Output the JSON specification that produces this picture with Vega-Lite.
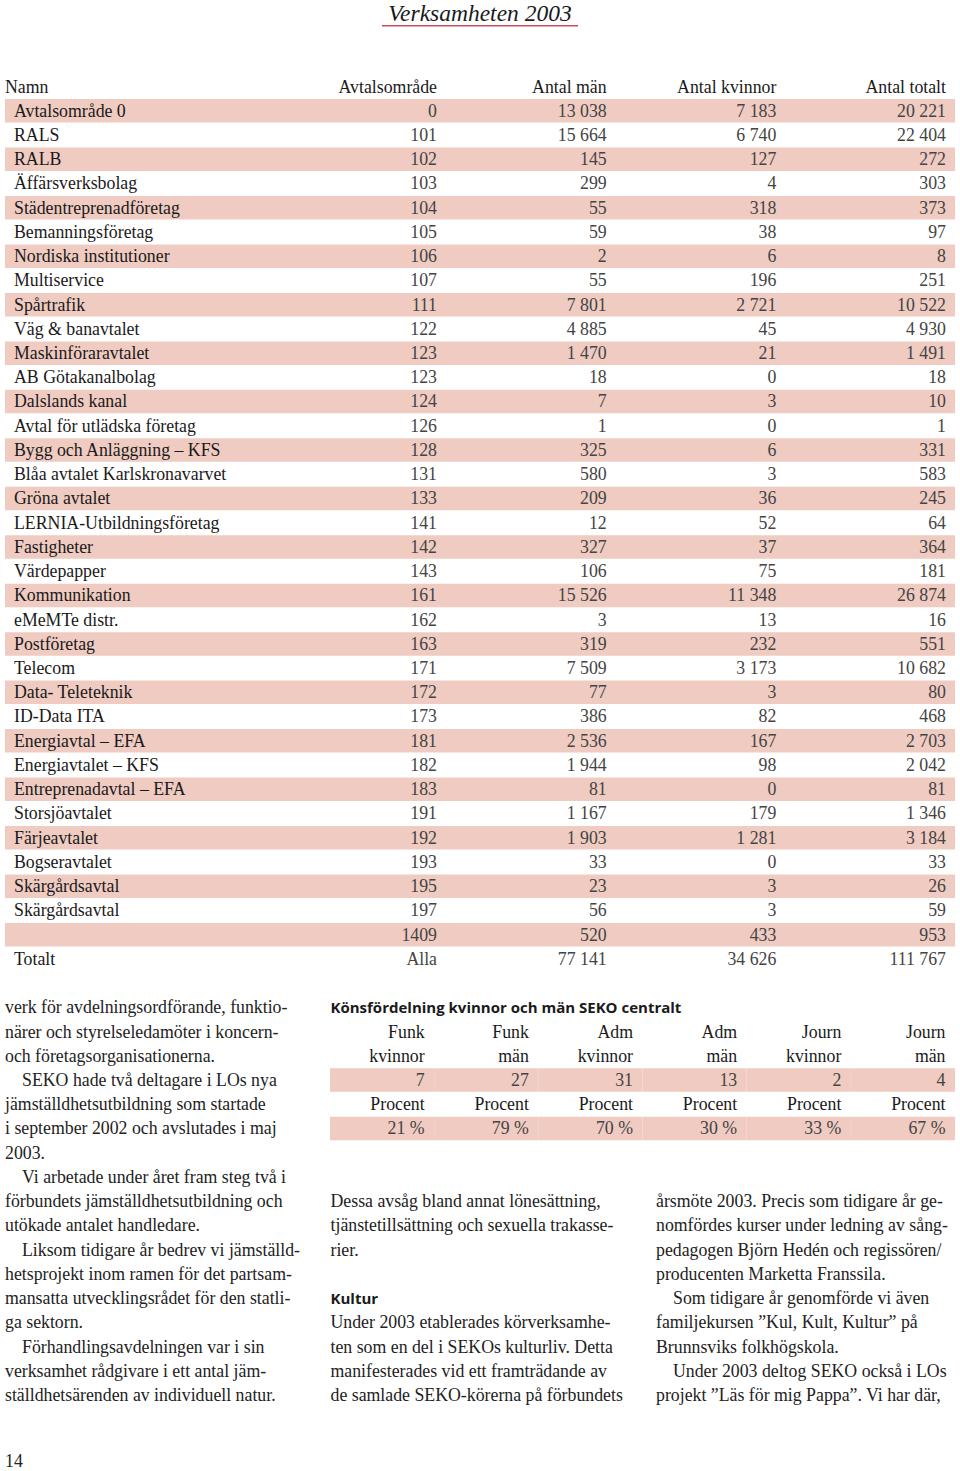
{
  "$schema": "https://vega.github.io/schema/vega-lite/v6.json",
  "width": 950,
  "height": 1471,
  "padding": {"left": 5, "right": 5, "top": 0, "bottom": 0},
  "autosize": {"type": "none"},
  "background": "white",
  "config": {
    "view": {"stroke": null},
    "axis": {"disable": true},
    "legend": {"disable": true},
    "locale": {"number": {"decimal": ",", "thousands": " ", "grouping": [3], "currency": ["", " kr"], "percent": " %"}},
    "text": {"font": "Liberation Serif", "fontSize": 17.8, "baseline": "alphabetic", "color": "#222222"}
  },
  "datasets": {
    "avtal": [
      {"nr": 1, "namn": "Avtalsområde 0", "avtalsomrade": "0", "man": 13038, "kvinnor": 7183, "totalt": 20221},
      {"nr": 2, "namn": "RALS", "avtalsomrade": "101", "man": 15664, "kvinnor": 6740, "totalt": 22404},
      {"nr": 3, "namn": "RALB", "avtalsomrade": "102", "man": 145, "kvinnor": 127, "totalt": 272},
      {"nr": 4, "namn": "Äffärsverksbolag", "avtalsomrade": "103", "man": 299, "kvinnor": 4, "totalt": 303},
      {"nr": 5, "namn": "Städentreprenadföretag", "avtalsomrade": "104", "man": 55, "kvinnor": 318, "totalt": 373},
      {"nr": 6, "namn": "Bemanningsföretag", "avtalsomrade": "105", "man": 59, "kvinnor": 38, "totalt": 97},
      {"nr": 7, "namn": "Nordiska institutioner", "avtalsomrade": "106", "man": 2, "kvinnor": 6, "totalt": 8},
      {"nr": 8, "namn": "Multiservice", "avtalsomrade": "107", "man": 55, "kvinnor": 196, "totalt": 251},
      {"nr": 9, "namn": "Spårtrafik", "avtalsomrade": "111", "man": 7801, "kvinnor": 2721, "totalt": 10522},
      {"nr": 10, "namn": "Väg & banavtalet", "avtalsomrade": "122", "man": 4885, "kvinnor": 45, "totalt": 4930},
      {"nr": 11, "namn": "Maskinföraravtalet", "avtalsomrade": "123", "man": 1470, "kvinnor": 21, "totalt": 1491},
      {"nr": 12, "namn": "AB Götakanalbolag", "avtalsomrade": "123", "man": 18, "kvinnor": 0, "totalt": 18},
      {"nr": 13, "namn": "Dalslands kanal", "avtalsomrade": "124", "man": 7, "kvinnor": 3, "totalt": 10},
      {"nr": 14, "namn": "Avtal för utlädska företag", "avtalsomrade": "126", "man": 1, "kvinnor": 0, "totalt": 1},
      {"nr": 15, "namn": "Bygg och Anläggning – KFS", "avtalsomrade": "128", "man": 325, "kvinnor": 6, "totalt": 331},
      {"nr": 16, "namn": "Blåa avtalet Karlskronavarvet", "avtalsomrade": "131", "man": 580, "kvinnor": 3, "totalt": 583},
      {"nr": 17, "namn": "Gröna avtalet", "avtalsomrade": "133", "man": 209, "kvinnor": 36, "totalt": 245},
      {"nr": 18, "namn": "LERNIA-Utbildningsföretag", "avtalsomrade": "141", "man": 12, "kvinnor": 52, "totalt": 64},
      {"nr": 19, "namn": "Fastigheter", "avtalsomrade": "142", "man": 327, "kvinnor": 37, "totalt": 364},
      {"nr": 20, "namn": "Värdepapper", "avtalsomrade": "143", "man": 106, "kvinnor": 75, "totalt": 181},
      {"nr": 21, "namn": "Kommunikation", "avtalsomrade": "161", "man": 15526, "kvinnor": 11348, "totalt": 26874},
      {"nr": 22, "namn": "eMeMTe distr.", "avtalsomrade": "162", "man": 3, "kvinnor": 13, "totalt": 16},
      {"nr": 23, "namn": "Postföretag", "avtalsomrade": "163", "man": 319, "kvinnor": 232, "totalt": 551},
      {"nr": 24, "namn": "Telecom", "avtalsomrade": "171", "man": 7509, "kvinnor": 3173, "totalt": 10682},
      {"nr": 25, "namn": "Data- Teleteknik", "avtalsomrade": "172", "man": 77, "kvinnor": 3, "totalt": 80},
      {"nr": 26, "namn": "ID-Data ITA", "avtalsomrade": "173", "man": 386, "kvinnor": 82, "totalt": 468},
      {"nr": 27, "namn": "Energiavtal – EFA", "avtalsomrade": "181", "man": 2536, "kvinnor": 167, "totalt": 2703},
      {"nr": 28, "namn": "Energiavtalet – KFS", "avtalsomrade": "182", "man": 1944, "kvinnor": 98, "totalt": 2042},
      {"nr": 29, "namn": "Entreprenadavtal – EFA", "avtalsomrade": "183", "man": 81, "kvinnor": 0, "totalt": 81},
      {"nr": 30, "namn": "Storsjöavtalet", "avtalsomrade": "191", "man": 1167, "kvinnor": 179, "totalt": 1346},
      {"nr": 31, "namn": "Färjeavtalet", "avtalsomrade": "192", "man": 1903, "kvinnor": 1281, "totalt": 3184},
      {"nr": 32, "namn": "Bogseravtalet", "avtalsomrade": "193", "man": 33, "kvinnor": 0, "totalt": 33},
      {"nr": 33, "namn": "Skärgårdsavtal", "avtalsomrade": "195", "man": 23, "kvinnor": 3, "totalt": 26},
      {"nr": 34, "namn": "Skärgårdsavtal", "avtalsomrade": "197", "man": 56, "kvinnor": 3, "totalt": 59},
      {"nr": 35, "namn": "", "avtalsomrade": "1409", "man": 520, "kvinnor": 433, "totalt": 953},
      {"nr": 36, "namn": "Totalt", "avtalsomrade": "Alla", "man": 77141, "kvinnor": 34626, "totalt": 111767}
    ],
    "rubriker": [
      {"kolumn": "namn", "rubrik": "Namn"},
      {"kolumn": "avtalsomrade", "rubrik": "Avtalsområde"},
      {"kolumn": "man", "rubrik": "Antal män"},
      {"kolumn": "kvinnor", "rubrik": "Antal kvinnor"},
      {"kolumn": "totalt", "rubrik": "Antal totalt"}
    ],
    "sidtitel": [{"titel": "Verksamheten 2003"}],
    "kon": [
      {"kolumn": 1, "grupp": "Funk", "kon": "kvinnor", "antal": 7, "andel": 0.21},
      {"kolumn": 2, "grupp": "Funk", "kon": "män", "antal": 27, "andel": 0.79},
      {"kolumn": 3, "grupp": "Adm", "kon": "kvinnor", "antal": 31, "andel": 0.70},
      {"kolumn": 4, "grupp": "Adm", "kon": "män", "antal": 13, "andel": 0.30},
      {"kolumn": 5, "grupp": "Journ", "kon": "kvinnor", "antal": 2, "andel": 0.33},
      {"kolumn": 6, "grupp": "Journ", "kon": "män", "antal": 4, "andel": 0.67}
    ],
    "brodtext": [
      {"spalt": "vänster", "rad": 1, "typ": "text", "text": "verk för avdelningsordförande, funktio-"},
      {"spalt": "vänster", "rad": 2, "typ": "text", "text": "närer och styrelseledamöter i koncern-"},
      {"spalt": "vänster", "rad": 3, "typ": "text", "text": "och företagsorganisationerna."},
      {"spalt": "vänster", "rad": 4, "typ": "stycke", "text": "SEKO hade två deltagare i LOs nya"},
      {"spalt": "vänster", "rad": 5, "typ": "text", "text": "jämställdhetsutbildning som startade"},
      {"spalt": "vänster", "rad": 6, "typ": "text", "text": "i september 2002 och avslutades i maj"},
      {"spalt": "vänster", "rad": 7, "typ": "text", "text": "2003."},
      {"spalt": "vänster", "rad": 8, "typ": "stycke", "text": "Vi arbetade under året fram steg två i"},
      {"spalt": "vänster", "rad": 9, "typ": "text", "text": "förbundets jämställdhetsutbildning och"},
      {"spalt": "vänster", "rad": 10, "typ": "text", "text": "utökade antalet handledare."},
      {"spalt": "vänster", "rad": 11, "typ": "stycke", "text": "Liksom tidigare år bedrev vi jämställd-"},
      {"spalt": "vänster", "rad": 12, "typ": "text", "text": "hetsprojekt inom ramen för det partsam-"},
      {"spalt": "vänster", "rad": 13, "typ": "text", "text": "mansatta utvecklingsrådet för den statli-"},
      {"spalt": "vänster", "rad": 14, "typ": "text", "text": "ga sektorn."},
      {"spalt": "vänster", "rad": 15, "typ": "stycke", "text": "Förhandlingsavdelningen var i sin"},
      {"spalt": "vänster", "rad": 16, "typ": "text", "text": "verksamhet rådgivare i ett antal jäm-"},
      {"spalt": "vänster", "rad": 17, "typ": "text", "text": "ställdhetsärenden av individuell natur."},
      {"spalt": "mitten", "rad": 1, "typ": "rubrik", "text": "Könsfördelning kvinnor och män SEKO centralt"},
      {"spalt": "mitten", "rad": 9, "typ": "text", "text": "Dessa avsåg bland annat lönesättning,"},
      {"spalt": "mitten", "rad": 10, "typ": "text", "text": "tjänstetillsättning och sexuella trakasse-"},
      {"spalt": "mitten", "rad": 11, "typ": "text", "text": "rier."},
      {"spalt": "mitten", "rad": 13, "typ": "rubrik", "text": "Kultur"},
      {"spalt": "mitten", "rad": 14, "typ": "text", "text": "Under 2003 etablerades körverksamhe-"},
      {"spalt": "mitten", "rad": 15, "typ": "text", "text": "ten som en del i SEKOs kulturliv. Detta"},
      {"spalt": "mitten", "rad": 16, "typ": "text", "text": "manifesterades vid ett framträdande av"},
      {"spalt": "mitten", "rad": 17, "typ": "text", "text": "de samlade SEKO-körerna på förbundets"},
      {"spalt": "höger", "rad": 9, "typ": "text", "text": "årsmöte 2003. Precis som tidigare år ge-"},
      {"spalt": "höger", "rad": 10, "typ": "text", "text": "nomfördes kurser under ledning av sång-"},
      {"spalt": "höger", "rad": 11, "typ": "text", "text": "pedagogen Björn Hedén och regissören/"},
      {"spalt": "höger", "rad": 12, "typ": "text", "text": "producenten Marketta Franssila."},
      {"spalt": "höger", "rad": 13, "typ": "stycke", "text": "Som tidigare år genomförde vi även"},
      {"spalt": "höger", "rad": 14, "typ": "text", "text": "familjekursen ”Kul, Kult, Kultur” på"},
      {"spalt": "höger", "rad": 15, "typ": "text", "text": "Brunnsviks folkhögskola."},
      {"spalt": "höger", "rad": 16, "typ": "stycke", "text": "Under 2003 deltog SEKO också i LOs"},
      {"spalt": "höger", "rad": 17, "typ": "text", "text": "projekt ”Läs för mig Pappa”. Vi har där,"}
    ],
    "sida": [{"sidnummer": 14}]
  },
  "layer": [
    {
      "encoding": {
        "y": {"field": "nr", "type": "ordinal", "scale": {"type": "band", "domain": [-3, -2, -1, 0, 1, 2, 3, 4, 5, 6, 7, 8, 9, 10, 11, 12, 13, 14, 15, 16, 17, 18, 19, 20, 21, 22, 23, 24, 25, 26, 27, 28, 29, 30, 31, 32, 33, 34, 35, 36], "range": [1.8, 971], "paddingInner": 0.03, "paddingOuter": 0.015}}
      },
      "layer": [
        {
          "data": {"name": "avtal"},
          "transform": [{"filter": "datum.nr % 2 == 1"}],
          "mark": {"type": "rect", "color": "#EFCBC1"},
          "encoding": {}
        },
        {
          "data": {"name": "sidtitel"},
          "mark": {"type": "text", "fontSize": 23.5, "fontStyle": "italic", "align": "center", "dy": 6.8, "color": "#1a1a1a"},
          "encoding": {"y": {"datum": -3, "type": "ordinal"}, "text": {"field": "titel"}}
        },
        {
          "data": {"name": "sidtitel"},
          "mark": {"type": "tick", "orient": "horizontal", "size": 196, "thickness": 1.5, "color": "#C4505E", "opacity": 1},
          "encoding": {"y": {"datum": -3, "type": "ordinal", "bandPosition": 1}}
        },
        {
          "layer": [
            {
              "data": {"name": "rubriker"},
              "transform": [{"filter": "datum.kolumn == 'namn'"}],
              "mark": {"type": "text", "align": "left", "dx": -9, "dy": 5.9, "color": "#1a1a1a"},
              "encoding": {
                "x": {"field": "kolumn", "type": "nominal", "scale": {"type": "point", "domain": ["namn", "avtalsomrade", "man", "kvinnor", "totalt"], "range": [9, 941], "padding": 0}},
                "y": {"datum": 0, "type": "ordinal"},
                "text": {"field": "rubrik"}
              }
            },
            {
              "data": {"name": "avtal"},
              "mark": {"type": "text", "align": "left", "dy": 5.9, "color": "#1a1a1a"},
              "encoding": {
                "x": {"datum": "namn", "type": "nominal"},
                "text": {"field": "namn"}
              }
            }
          ]
        },
        {
          "layer": [
            {
              "data": {"name": "rubriker"},
              "transform": [{"filter": "datum.kolumn != 'namn'"}],
              "mark": {"type": "text", "align": "right", "dy": 5.9, "color": "#1a1a1a"},
              "encoding": {
                "x": {"field": "kolumn", "type": "nominal", "scale": {"type": "point", "domain": ["avtalsomrade", "man", "kvinnor", "totalt"], "range": [432, 941], "padding": 0}},
                "y": {"datum": 0, "type": "ordinal"},
                "text": {"field": "rubrik"}
              }
            },
            {
              "data": {"name": "avtal"},
              "mark": {"type": "text", "align": "right", "dy": 5.9, "color": "#444444"},
              "encoding": {
                "x": {"datum": "avtalsomrade", "type": "nominal"},
                "text": {"field": "avtalsomrade"}
              }
            },
            {
              "data": {"name": "avtal"},
              "transform": [{"fold": ["man", "kvinnor", "totalt"], "as": ["kolumn", "antal"]}],
              "mark": {"type": "text", "align": "right", "dy": 5.9, "color": "#444444"},
              "encoding": {
                "x": {"field": "kolumn", "type": "nominal"},
                "text": {"field": "antal", "type": "quantitative", "format": ",d"}
              }
            }
          ]
        }
      ],
      "resolve": {"scale": {"x": "independent"}}
    },
    {
      "encoding": {
        "y": {"field": "rad", "type": "ordinal", "scale": {"type": "band", "domain": [1, 2, 3, 4, 5, 6, 7, 8, 9, 10, 11, 12, 13, 14, 15, 16, 17, 18, 19, 20], "range": [995.3, 1479.9], "paddingInner": 0.03, "paddingOuter": 0.015}},
        "x": {"field": "spalt", "type": "nominal", "scale": {"type": "point", "domain": ["vänster", "mitten", "höger"], "range": [0, 651], "padding": 0}}
      },
      "layer": [
        {
          "data": {"name": "brodtext"},
          "transform": [{"filter": "datum.typ == 'text'"}],
          "mark": {"type": "text", "align": "left", "dy": 5.9, "color": "#222222"},
          "encoding": {"text": {"field": "text"}}
        },
        {
          "data": {"name": "brodtext"},
          "transform": [{"filter": "datum.typ == 'stycke'"}],
          "mark": {"type": "text", "align": "left", "dx": 17, "dy": 5.9, "color": "#222222"},
          "encoding": {"text": {"field": "text"}}
        },
        {
          "data": {"name": "brodtext"},
          "transform": [{"filter": "datum.typ == 'rubrik'"}],
          "mark": {"type": "text", "align": "left", "dy": 5.5, "font": "Open Sans", "fontWeight": "bold", "fontSize": 15, "color": "#1a1a1a"},
          "encoding": {"text": {"field": "text"}}
        },
        {
          "data": {"name": "sida"},
          "mark": {"type": "text", "align": "left", "dy": -1.2, "color": "#222222"},
          "encoding": {
            "x": {"datum": "vänster", "type": "nominal"},
            "y": {"datum": 20, "type": "ordinal"},
            "text": {"field": "sidnummer", "type": "nominal"}
          }
        }
      ]
    },
    {
      "data": {"name": "kon"},
      "encoding": {
        "x": {"field": "kolumn", "type": "ordinal", "scale": {"type": "band", "domain": [1, 2, 3, 4, 5, 6], "range": [325, 950], "paddingInner": 0, "paddingOuter": 0}}
      },
      "layer": [
        {
          "transform": [{"fold": ["antal", "andel"], "as": ["rad", "varde"]}],
          "mark": {"type": "rect", "color": "#EFCBC1"},
          "encoding": {
            "y": {"field": "rad", "type": "nominal", "scale": {"type": "band", "domain": ["grupp", "kon", "antal", "procent", "andel"], "range": [1019.5, 1140.7], "paddingInner": 0.03, "paddingOuter": 0.015}}
          }
        },
        {
          "mark": {"type": "text", "align": "right", "dx": -9.5, "dy": 5.9, "color": "#1a1a1a"},
          "encoding": {
            "x": {"field": "kolumn", "type": "ordinal", "bandPosition": 1},
            "y": {"datum": "grupp", "type": "nominal"},
            "text": {"field": "grupp"}
          }
        },
        {
          "mark": {"type": "text", "align": "right", "dx": -9.5, "dy": 5.9, "color": "#1a1a1a"},
          "encoding": {
            "x": {"field": "kolumn", "type": "ordinal", "bandPosition": 1},
            "y": {"datum": "kon", "type": "nominal"},
            "text": {"field": "kon"}
          }
        },
        {
          "mark": {"type": "text", "align": "right", "dx": -9.5, "dy": 5.9, "color": "#444444"},
          "encoding": {
            "x": {"field": "kolumn", "type": "ordinal", "bandPosition": 1},
            "y": {"datum": "antal", "type": "nominal"},
            "text": {"field": "antal", "type": "quantitative", "format": "d"}
          }
        },
        {
          "mark": {"type": "text", "align": "right", "dx": -9.5, "dy": 5.9, "color": "#1a1a1a"},
          "encoding": {
            "x": {"field": "kolumn", "type": "ordinal", "bandPosition": 1},
            "y": {"datum": "procent", "type": "nominal"},
            "text": {"value": "Procent"}
          }
        },
        {
          "mark": {"type": "text", "align": "right", "dx": -9.5, "dy": 5.9, "color": "#444444"},
          "encoding": {
            "x": {"field": "kolumn", "type": "ordinal", "bandPosition": 1},
            "y": {"datum": "andel", "type": "nominal"},
            "text": {"field": "andel", "type": "quantitative", "format": ".0%"}
          }
        }
      ]
    }
  ],
  "resolve": {"scale": {"x": "independent", "y": "independent"}}
}
